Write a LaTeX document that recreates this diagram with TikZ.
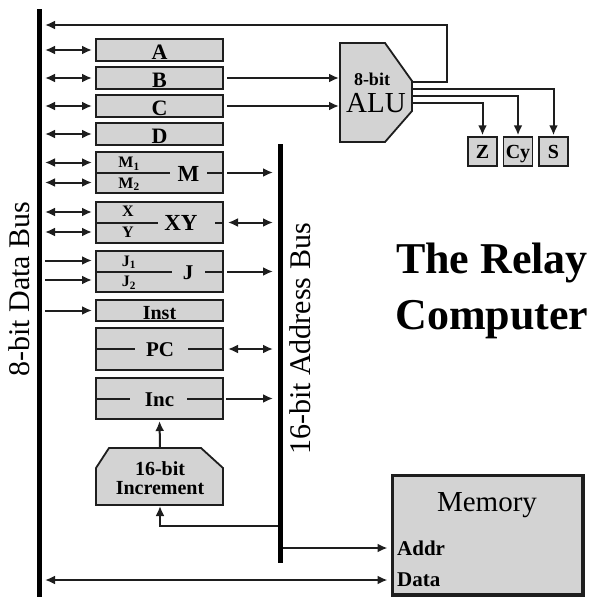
\documentclass[tikz,border=0pt]{standalone}
\usepackage{fontspec}
\setmainfont{Liberation Serif}
\usetikzlibrary{arrows.meta,calc}
\definecolor{regfill}{HTML}{D3D3D3}
\definecolor{ink}{HTML}{1E1E1E}
\newcommand{\fs}[1]{\fontsize{#1}{#1}\selectfont}
\begin{document}
\begin{tikzpicture}[x=1pt,y=-1pt,
  reg/.style={draw=ink,line width=2pt,fill=regfill,minimum width=127pt,inner sep=0pt,outer sep=0pt},
  rtxt/.style={inner sep=0pt,anchor=base,font=\bfseries\fs{22}},
  flag/.style={draw=ink,line width=1.5pt,fill=regfill,minimum width=29pt,minimum height=29pt,inner sep=0pt},
  ftxt/.style={inner sep=0pt,anchor=base,font=\bfseries\fs{20}},
  lbl/.style={inner sep=0pt,anchor=base,font=\bfseries\fs{23}},
  sub/.style={inner sep=0pt,anchor=base,font=\bfseries\fs{16}},
  conn/.style={draw=ink,line width=2pt},
  tip/.style={-{Latex[length=10pt,width=9pt]}},
  dtip/.style={{Latex[length=10pt,width=9pt]}-{Latex[length=10pt,width=9pt]}},
  bus/.style={draw=black,line width=5pt}]
\useasboundingbox (0,0) rectangle (598,597);

% buses
\draw[bus] (39,9) -- (39,597);
\draw[bus] (280,144) -- (280,563);
\coordinate (dbL) at (45,0);
\coordinate (abL) at (273,0);
\coordinate (abR) at (282.5,0);

% registers
\node[reg,minimum height=22pt] (A) at (159.5,50) {};
\node[reg,minimum height=22pt] (B) at (159.5,78) {};
\node[reg,minimum height=22pt] (C) at (159.5,106) {};
\node[reg,minimum height=22pt] (D) at (159.5,134) {};
\node[rtxt] (Alab) at (159.5,59.5) {A};
\node[rtxt] (Blab) at (159.5,87.5) {B};
\node[rtxt] (Clab) at (159.5,115.5) {C};
\node[rtxt] (Dlab) at (159.5,143.5) {D};
\node[reg,minimum height=41pt] (M) at (159.5,172.5) {};
\node[reg,minimum height=41pt] (XY) at (159.5,222.5) {};
\node[reg,minimum height=41pt] (J) at (159.5,271.5) {};
\node[reg,minimum height=21pt] (Inst) at (159.5,310.5) {};
\node[rtxt,font=\bfseries\fs{20}] (Instlab) at (159.5,319) {Inst};
\node[reg,minimum height=42pt] (PC) at (159.5,349) {};
\node[reg,minimum height=41pt] (Inc) at (159.5,398.5) {};

% M
\draw[conn] (M.west) -- ++(74,0);
\draw[conn] (M.east) -- ++(-16,0);
\node[lbl] (Mlab) at (188.5,181.5) {M};
\node[sub] (M1) at (129,167.5) {M\textsubscript{1}};
\node[sub] (M2) at (129,188) {M\textsubscript{2}};
% XY
\draw[conn] (XY.west) -- ++(62,0);
\draw[conn] (XY.east) -- ++(-8,0);
\node[lbl] (XYlab) at (181,230) {XY};
\node[sub] (Xl) at (128,216.5) {X};
\node[sub] (Yl) at (128,237) {Y};
% J
\draw[conn] (J.west) -- ++(76,0);
\draw[conn] (J.east) -- ++(-18,0);
\node[lbl,font=\bfseries\fs{21}] (Jlab) at (188,279.5) {J};
\node[sub] (J1) at (129,266) {J\textsubscript{1}};
\node[sub] (J2) at (129,286.5) {J\textsubscript{2}};
% PC
\draw[conn] (PC.west) -- ++(39,0);
\draw[conn] (PC.east) -- ++(-35,0);
\node[lbl,font=\bfseries\fs{21}] (PClab) at (160,356) {PC};
% Inc
\draw[conn] (Inc.west) -- ++(34,0);
\draw[conn] (Inc.east) -- ++(-36,0);
\node[lbl,font=\bfseries\fs{21}] (Inclab) at (159.5,406) {Inc};

% data bus arrows
\draw[conn,dtip] (dbL |- A.west) -- ([xshift=-4pt]A.west);
\draw[conn,dtip] (dbL |- B.west) -- ([xshift=-4pt]B.west);
\draw[conn,dtip] (dbL |- C.west) -- ([xshift=-4pt]C.west);
\draw[conn,dtip] (dbL |- D.west) -- ([xshift=-4pt]D.west);
\draw[conn,dtip] ([yshift=10pt]M.west -| dbL) -- ([xshift=-4pt,yshift=10pt]M.west);
\draw[conn,dtip] ([yshift=-10pt]M.west -| dbL) -- ([xshift=-4pt,yshift=-10pt]M.west);
\draw[conn,dtip] ([yshift=10.5pt]XY.west -| dbL) -- ([xshift=-4pt,yshift=10.5pt]XY.west);
\draw[conn,dtip] ([yshift=-9.5pt]XY.west -| dbL) -- ([xshift=-4pt,yshift=-9.5pt]XY.west);
\draw[conn,tip] ([yshift=11pt]J.west -| dbL) -- ([xshift=-4pt,yshift=11pt]J.west);
\draw[conn,tip] ([yshift=-8.5pt]J.west -| dbL) -- ([xshift=-4pt,yshift=-8.5pt]J.west);
\draw[conn,tip] (dbL |- Inst.west) -- ([xshift=-4pt]Inst.west);

% address bus arrows
\draw[conn,tip] ([xshift=4pt]M.east) -- (abL |- M.east);
\draw[conn,dtip] ([xshift=5pt]XY.east) -- (abL |- XY.east);
\draw[conn,tip] ([xshift=4pt]J.east) -- (abL |- J.east);
\draw[conn,dtip] ([xshift=5pt]PC.east) -- (abL |- PC.east);
\draw[conn,tip] ([xshift=3pt]Inc.east) -- (abL |- Inc.east);

% ALU
\draw[draw=ink,line width=1.8pt,fill=regfill] (340,43) -- (385,43) -- (412,81) -- (412,111) -- (385,142) -- (340,142) -- cycle;
\node[inner sep=0pt,anchor=base,font=\bfseries\fs{18}] (alu8) at (372,85) {8-bit};
\node[inner sep=0pt,anchor=base,font=\fs{29}] (alu) at (376,112) {ALU};
\coordinate (aluW) at (339,0);
\draw[conn,tip] ([xshift=4pt]B.east) -- (aluW |- B.east);
\draw[conn,tip] ([xshift=4pt]C.east) -- (aluW |- C.east);
\coordinate (fb0) at (412,82);
\coordinate (fb1) at (447,82);
\coordinate (fb2) at (447,25);
\coordinate (fbend) at (45,25);
\draw[conn,tip] (fb0) -- (fb1) -- (fb2) -- (fbend);

% flags
\node[flag] (Z) at (482.5,151.5) {};
\node[flag] (Cy) at (518,151.5) {};
\node[flag] (S) at (553.5,151.5) {};
\node[ftxt] (Zl) at (482.5,158.5) {Z};
\node[ftxt] (Cyl) at (518,158.5) {Cy};
\node[ftxt] (Sl) at (553.5,158.5) {S};
\coordinate (out1) at (412,89);
\coordinate (out2) at (412,96);
\coordinate (out3) at (412,103);
\draw[conn,tip,shorten >=1pt] (out1) -| (S.north);
\draw[conn,tip,shorten >=1pt] (out2) -| (Cy.north);
\draw[conn,tip,shorten >=1pt] (out3) -| (Z.north);

% 16-bit increment
\draw[draw=ink,line width=1.8pt,fill=regfill] (109,448) -- (201,448) -- (223,468) -- (223,505) -- (96,505) -- (96,468) -- cycle;
\node[inner sep=0pt,anchor=base,font=\bfseries\fs{20}] (inc16) at (160,475) {16-bit};
\node[inner sep=0pt,anchor=base,font=\bfseries\fs{20}] (incr) at (160,494) {Increment};
\coordinate (incT) at (160,448);
\coordinate (incB) at (160,506);
\coordinate (incfeed) at (277.5,526);
\draw[conn,tip,shorten >=2pt] (incT) -- (Inc.south);
\draw[conn,tip] (incfeed) -| (incB);

% memory
\node[draw=ink,line width=3pt,fill=regfill,minimum width=191pt,minimum height=120pt,inner sep=0pt] (mem) at (487.5,535) {};
\draw[ink,line width=0.8pt] ([shift={(3pt,-3pt)}]mem.north west) rectangle ([shift={(-3pt,3pt)}]mem.south east);
\node[inner sep=0pt,font=\fs{29}] (memlab) at (487,505) {Memory};
\node[inner sep=0pt,anchor=west,font=\bfseries\fs{21}] (addr) at (397,548) {Addr};
\node[inner sep=0pt,anchor=west,font=\bfseries\fs{21}] (data) at (397,580) {Data};
\draw[conn,tip] (abR |- addr.west) -- ([xshift=-3pt]mem.west |- addr.west);
\draw[conn,dtip] (dbL |- data.west) -- ([xshift=-3pt]mem.west |- data.west);

% bus labels
\node[rotate=90,inner sep=0pt,font=\fs{30}] (dblab) at (19,289) {8-bit Data Bus};
\node[rotate=90,inner sep=0pt,font=\fs{30}] (ablab) at (300,339) {16-bit Address Bus};

% title
\node[inner sep=0pt,font=\bfseries\fs{44}] (t1) at (492,263) {The Relay};
\node[inner sep=0pt,font=\bfseries\fs{44}] (t2) at (492,320) {Computer};
\end{tikzpicture}
\end{document}
